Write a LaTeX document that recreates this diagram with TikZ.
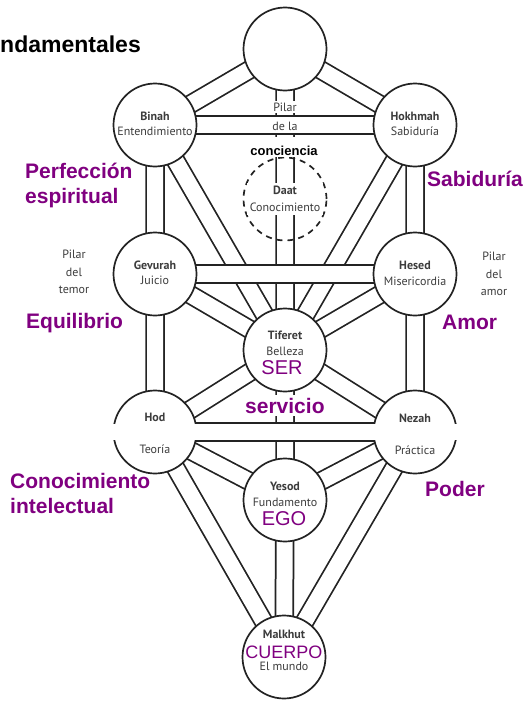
\documentclass[tikz,border=0pt]{standalone}
\usepackage{fontspec}
\setmainfont{Liberation Sans}
\newfontfamily\sefirafont{PT Sans}
\usetikzlibrary{backgrounds}

\definecolor{tema}{RGB}{128,0,128}
\definecolor{trazo}{RGB}{35,35,35}
\definecolor{gristexto}{RGB}{60,60,60}

\tikzset{
  sefira/.style={circle, draw=trazo, line width=1.7pt, fill=white, minimum size=83pt, inner sep=0pt},
  daatcirc/.style={circle, draw=trazo, line width=1.7pt, dash pattern=on 6pt off 5pt, minimum size=83pt, inner sep=0pt},
  senda/.style={line width=19.5pt, draw=trazo},
  sendacore/.style={line width=16pt, draw=white},
  nombre/.style={font=\sefirafont\bfseries\fontsize{12}{14}\selectfont, text=gristexto, anchor=base, inner sep=1pt},
  cualidad/.style={font=\sefirafont\fontsize{12}{14}\selectfont, text=gristexto, anchor=base, inner sep=1pt},
  virtud/.style={font=\bfseries\fontsize{21}{25}\selectfont, text=tema, anchor=base west, inner sep=0pt},
  nivel/.style={font=\fontsize{20}{24}\selectfont, text=tema, anchor=base, fill=white, inner sep=1pt},
  pilar/.style={font=\sefirafont\fontsize{12}{17.5}\selectfont, text=gristexto, align=center},
}

% the paths of the tree, from centre to centre
\newcommand\sendas{
  (kether.center) -- (binah.center)
  (kether.center) -- (hokhmah.center)
  (kether.center) -- (tiferet.center)
  (hokhmah.center) -- (tiferet.center)
  (hokhmah.center) -- (hesed.center)
  (binah.center) -- (tiferet.center)
  (binah.center) -- (gevurah.center)
  (hesed.center) -- (tiferet.center)
  (hesed.center) -- (nezah.center)
  (gevurah.center) -- (tiferet.center)
  (gevurah.center) -- (hod.center)
  (tiferet.center) -- (nezah.center)
  (tiferet.center) -- (yesod.center)
  (tiferet.center) -- (hod.center)
  (nezah.center) -- (yesod.center)
  (nezah.center) -- (malkhut.center)
  (hod.center) -- (yesod.center)
  (hod.center) -- (malkhut.center)
  (yesod.center) -- (malkhut.center)
}
\newcommand\horizontales{
  (binah.center) -- (hokhmah.center)
  (gevurah.center) -- (hesed.center)
  (hod.center) -- (nezah.center)
}

\begin{document}
\begin{tikzpicture}[x=1pt, y=-1pt]

  \useasboundingbox (0,0) rectangle (524,704);

  % --- Sefirot ---
  \node[sefira] (kether) at (285,49) {};
  \node[sefira] (binah) at (155,125) {};
  \node[sefira] (hokhmah) at (415,125) {};
  \node[daatcirc] (daat) at (285,199) {};
  \node[sefira] (gevurah) at (155,274) {};
  \node[sefira] (hesed) at (415,274) {};
  \node[sefira] (tiferet) at (285,350) {};
  \node[sefira] (hod) at (155,432) {};
  \node[sefira] (nezah) at (415,432) {};
  \node[sefira] (yesod) at (285,500) {};
  \node[sefira] (malkhut) at (284,657) {};

  % --- Paths behind the circles ---
  \begin{scope}[on background layer]
    \fill[white] (0,0) rectangle (524,704);
    \draw[senda] \sendas;
    \draw[sendacore] \sendas;
    \draw[senda] \horizontales;
    \draw[sendacore] \horizontales;
  \end{scope}

  % --- Blanked middles of Hod and Nezah ---
  \fill[white] (111,424) rectangle (199,440);
  \fill[white] (371,424) rectangle (459,440);

  % --- Names inside the circles ---
  \node[nombre] (binahname) at (155,120) {Binah};
  \node[cualidad] (binahtext) at (155,135) {Entendimiento};
  \node[nombre] (hokhmahname) at (415,120) {Hokhmah};
  \node[cualidad] (hokhmahtext) at (415,135) {Sabiduría};
  \node[pilar, fill=white, inner sep=3pt] (daattext) at (285,199) {\textbf{Daat}\\Conocimiento};
  \node[nombre] (gevurahname) at (155,269) {Gevurah};
  \node[cualidad] (gevurahtext) at (155,284.5) {Juicio};
  \node[nombre] (hesedname) at (415,269) {Hesed};
  \node[cualidad] (hesedtext) at (415,285) {Misericordia};
  \node[nombre] (tiferetname) at (285,339) {Tiferet};
  \node[cualidad] (tiferettext) at (285,355) {Belleza};
  \node[nivel] (ser) at (282,374) {SER};
  \node[nombre] (hodname) at (155,421) {Hod};
  \node[cualidad] (hodtext) at (155,453) {Teoría};
  \node[nombre] (nezahname) at (415,422) {Nezah};
  \node[cualidad] (nezahtext) at (415,454) {Práctica};
  \node[nombre] (yesodname) at (285,490) {Yesod};
  \node[cualidad] (yesodtext) at (285,506) {Fundamento};
  \node[nivel] (ego) at (284,525) {EGO};
  \node[nombre] (malkhutname) at (284,638) {Malkhut};
  \node[cualidad] (malkhuttext) at (284,670) {El mundo};
  \node[nivel, fill=none, font=\fontsize{18}{22}\selectfont] (cuerpo) at (284,658) {CUERPO};

  % --- Pillars ---
  \node[pilar] (temor) at (74,272) {Pilar\\del\\temor};
  \node[pilar] (amor) at (494,274) {Pilar\\del\\amor};
  \node[pilar, fill=white, inner sep=2pt] (pilarc) at (285,107) {Pilar};
  \node[pilar] (delac) at (285,126) {de la};
  \node[font=\bfseries\fontsize{13}{15}\selectfont, fill=white, anchor=base, inner sep=2pt, text height=16pt] (conciencia) at (284,155) {conciencia};

  % --- Title and purple labels ---
  \node[font=\bfseries\fontsize{23}{27}\selectfont, anchor=base west, inner sep=0pt] (titulo) at (0,52) {ndamentales};
  \node[virtud] (perfeccion) at (25,178) {Perfección};
  \node[virtud] (espiritual) at (25,203) {espiritual};
  \node[virtud] (sabiduria) at (427,186) {Sabiduría};
  \node[virtud] (equilibrio) at (26,328) {Equilibrio};
  \node[virtud] (amorlabel) at (442,329) {Amor};
  \node[virtud] (conocimiento) at (10,488) {Conocimiento};
  \node[virtud] (intelectual) at (10,513) {intelectual};
  \node[virtud] (poder) at (425,496) {Poder};
  \node[virtud, fill=white, inner xsep=1pt, inner ysep=3pt] (servicio) at (244,413) {servicio};

\end{tikzpicture}
\end{document}
